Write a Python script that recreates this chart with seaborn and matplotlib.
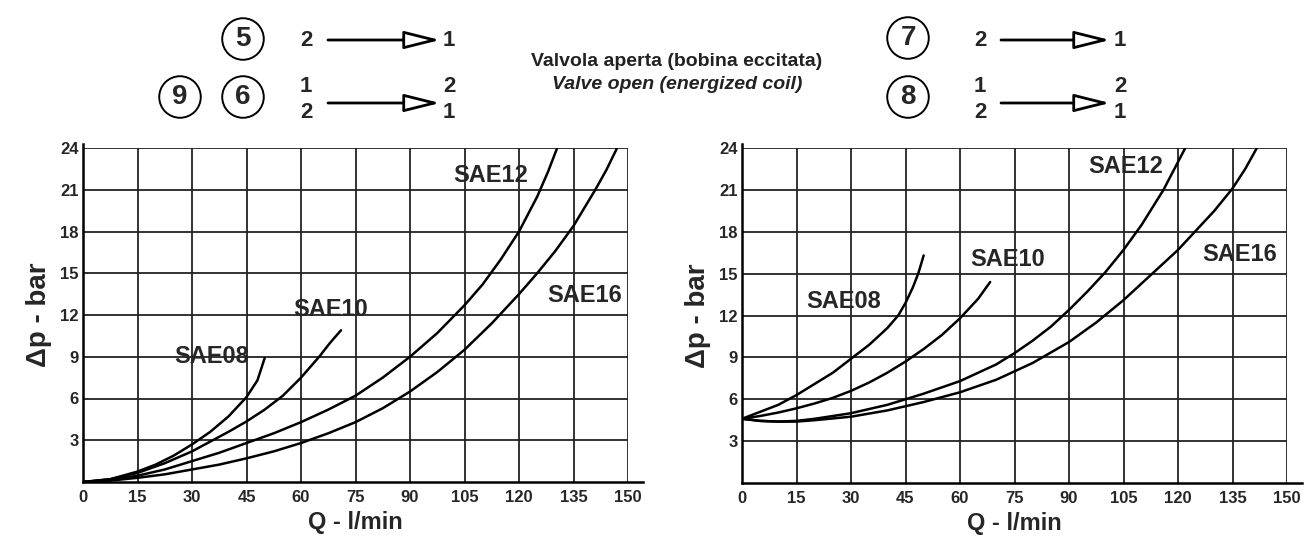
import seaborn as sns
import pandas as pd
import matplotlib.pyplot as plt

# left chart: valve open, flow 2->1 / 1->2 (cavity 5,6,9)
l_sae08_q = [0, 7.5, 15, 20, 25, 30, 35, 40, 45, 48, 50]
l_sae08_p = [0, 0.2, 0.75, 1.25, 1.9, 2.7, 3.6, 4.7, 6.1, 7.3, 8.9]
l_sae10_q = [0, 7.5, 15, 22.5, 30, 35, 40, 45, 50, 55, 60, 65, 68, 71]
l_sae10_p = [0, 0.2, 0.65, 1.35, 2.2, 2.9, 3.6, 4.35, 5.2, 6.2, 7.5, 9.0, 10.0, 10.9]
l_sae12_q = [0, 7.5, 15, 22.5, 30, 37.5, 45, 52.5, 60, 67.5, 75, 82.5, 90, 97.5, 105, 110, 115, 120, 125, 128, 130.5]
l_sae12_p = [0, 0.15, 0.45, 0.9, 1.5, 2.1, 2.8, 3.5, 4.3, 5.2, 6.2, 7.5, 9.0, 10.7, 12.7, 14.2, 16.0, 18.0, 20.5, 22.3, 24]
l_sae16_q = [0, 7.5, 15, 22.5, 30, 37.5, 45, 52.5, 60, 67.5, 75, 82.5, 90, 97.5, 105, 112.5, 120, 125, 130, 135, 141, 144, 147]
l_sae16_p = [0, 0.1, 0.3, 0.55, 0.9, 1.25, 1.7, 2.2, 2.8, 3.5, 4.3, 5.3, 6.5, 7.9, 9.5, 11.4, 13.5, 15.0, 16.6, 18.4, 21.0, 22.4, 24]

# right chart (cavity 7,8)
r_sae08_q = [0, 5, 10, 15, 20, 25, 30, 35, 40, 43, 45, 47, 48.5, 50]
r_sae08_p = [4.6, 5.1, 5.6, 6.3, 7.1, 7.9, 8.9, 9.9, 11.1, 12.0, 12.9, 14.0, 15.0, 16.3]
r_sae10_q = [0, 5, 10, 15, 20, 25, 30, 35, 40, 45, 50, 55, 60, 65, 68.3]
r_sae10_p = [4.6, 4.8, 5.05, 5.35, 5.7, 6.1, 6.6, 7.2, 7.9, 8.7, 9.6, 10.6, 11.8, 13.2, 14.4]
r_sae12_q = [0, 5, 10, 15, 20, 30, 40, 45, 50, 60, 70, 75, 80, 85, 90, 95, 100, 105, 110, 116, 120, 122]
r_sae12_p = [4.6, 4.45, 4.4, 4.45, 4.6, 5.0, 5.6, 6.0, 6.4, 7.3, 8.5, 9.3, 10.2, 11.2, 12.4, 13.7, 15.1, 16.7, 18.5, 21.0, 23.0, 24]
r_sae16_q = [0, 5, 10, 15, 20, 30, 40, 50, 60, 70, 80, 90, 97.5, 105, 112.5, 120, 130, 135, 138.5, 141.7]
r_sae16_p = [4.6, 4.45, 4.4, 4.4, 4.5, 4.75, 5.2, 5.8, 6.5, 7.4, 8.6, 10.1, 11.5, 13.1, 14.9, 16.7, 19.5, 21.1, 22.5, 24]

sizes = ["SAE08", "SAE10", "SAE12", "SAE16"]
x_ticks = [0, 15, 30, 45, 60, 75, 90, 105, 120, 135, 150]
y_ticks = [3, 6, 9, 12, 15, 18, 21, 24]

l_label_pos = {"SAE08": (35.3, 9.0), "SAE10": (68.1, 12.4), "SAE12": (112.3, 22.0), "SAE16": (138.1, 13.4)}
r_label_pos = {"SAE08": (28.0, 13.0), "SAE10": (73.2, 16.0), "SAE12": (105.7, 22.7), "SAE16": (137.1, 16.4)}


def to_frame(qs, ps):
    rows = []
    for name, q, p in zip(sizes, qs, ps):
        for a, b in zip(q, p):
            rows.append({"size": name, "Q": a, "dp": b})
    return pd.DataFrame(rows)


left = to_frame([l_sae08_q, l_sae10_q, l_sae12_q, l_sae16_q],
                [l_sae08_p, l_sae10_p, l_sae12_p, l_sae16_p])
right = to_frame([r_sae08_q, r_sae10_q, r_sae12_q, r_sae16_q],
                 [r_sae08_p, r_sae10_p, r_sae12_p, r_sae16_p])

sns.set_style("white")
plt.rcParams['font.family'] = ['Liberation Sans', 'DejaVu Sans']
plt.rcParams['font.weight'] = 'bold'

W, H = 1305, 538
fig = plt.figure(figsize=(W / 100, H / 100), dpi=100)
ax1 = fig.add_axes([83 / W, 1 - 482 / H, 545 / W, 334 / H])
ax2 = fig.add_axes([742 / W, 1 - 483 / H, 545 / W, 335 / H])

black = {s: "black" for s in sizes}
for ax, df, lab in [(ax1, left, l_label_pos), (ax2, right, r_label_pos)]:
    sns.lineplot(data=df, x="Q", y="dp", hue="size", palette=black,
                 estimator=None, linewidth=1.8, legend=False, ax=ax)
    ax.set_xlim(0, 150)
    ax.set_ylim(0, 24)
    ax.set_xticks(x_ticks)
    ax.set_yticks(y_ticks)
    ax.grid(True, color="#222222", linewidth=1.3)
    for sp in ["top", "right"]:
        ax.spines[sp].set_visible(False)
    for sp in ["left", "bottom"]:
        ax.spines[sp].set_color("black")
        ax.spines[sp].set_linewidth(1.8)
    ax.spines["bottom"].set_bounds(0, 154)
    ax.spines["left"].set_bounds(0, 24.3)
    ax.tick_params(axis="both", length=0, labelsize=12)
    ax.tick_params(axis="y", pad=3)
    ax.tick_params(axis="x", pad=6)
    for t in ax.get_xticklabels() + ax.get_yticklabels():
        t.set_fontweight("bold")
    ax.set_xlabel("Q - l/min", fontsize=17, fontweight="bold", labelpad=4)
    ax.set_ylabel("Δp - bar", fontsize=20, fontweight="bold", labelpad=6)
    for name, (x, y) in lab.items():
        ax.text(x, y, name, fontsize=17, fontweight="bold", ha="center", va="center")

# header: cavity symbols and flow arrows
def circ(x, y, s):
    fig.text(x / W, 1 - y / H, s, fontsize=20, fontweight="bold", ha="center", va="center",
             bbox=dict(boxstyle="circle,pad=0.28", fc="white", ec="black", lw=1.4))

def num(x, y, s):
    fig.text(x / W, 1 - y / H, s, fontsize=16, fontweight="bold", ha="center", va="center")

def arrow(x1, x2, y):
    ax1.annotate("", xy=(x2, H - y), xytext=(x1, H - y), xycoords="figure pixels",
                 textcoords="figure pixels", annotation_clip=False,
                 arrowprops=dict(arrowstyle="-|>,head_length=2.2,head_width=0.55",
                                 fc="white", ec="black", lw=2.0, shrinkA=0, shrinkB=0))

circ(243, 39, "5")
circ(180, 97, "9")
circ(243, 97, "6")
num(306, 40, "2"); arrow(328, 440, 40); num(449, 40, "1")
num(306, 87, "1"); num(306, 112, "2"); arrow(328, 440, 103)
num(449, 87, "2"); num(449, 112, "1")

circ(908, 38, "7")
circ(908, 97, "8")
num(980, 40, "2"); arrow(1001, 1110, 40); num(1120, 40, "1")
num(980, 87, "1"); num(980, 112, "2"); arrow(1001, 1110, 103)
num(1120, 87, "2"); num(1120, 112, "1")

fig.text(677 / W, 1 - 62 / H, "Valvola aperta (bobina eccitata)", fontsize=14,
         fontweight="bold", ha="center", va="center", color="#222222")
fig.text(677 / W, 1 - 84 / H, "Valve open (energized coil)", fontsize=14,
         fontweight="bold", style="italic", ha="center", va="center", color="#222222")

fig.savefig("out.png", dpi=100)
